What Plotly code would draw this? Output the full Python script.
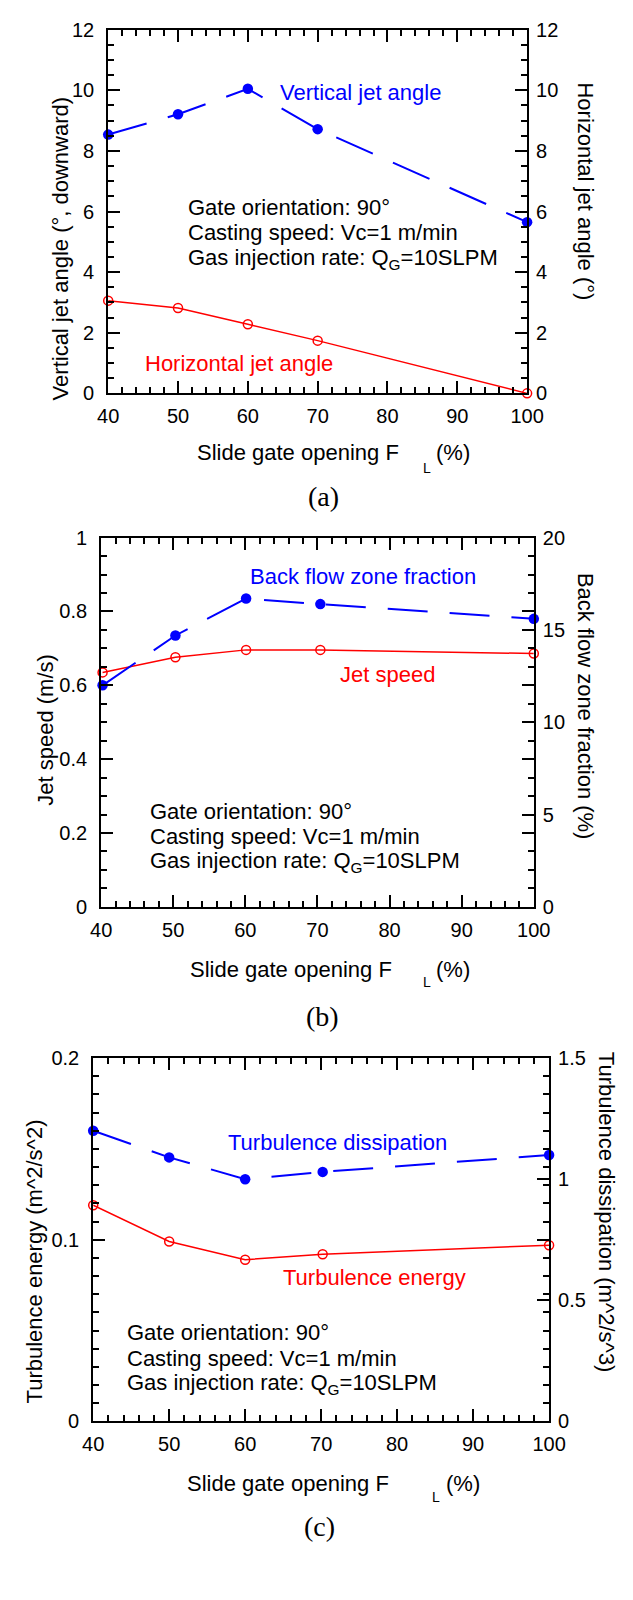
import plotly.graph_objects as go

# ---------------- data ----------------
x_ticks = [40, 50, 60, 70, 80, 90, 100]

# Panel (a)
gate_a = [40, 50, 60, 70, 100]
vertical_angle = [8.54, 9.21, 10.05, 8.72, 5.65]
horizontal_angle = [3.06, 2.82, 2.28, 1.74, 0.0]

# Panel (b)
gate_b = [40.2, 50.3, 60.1, 70.4, 100]
jet_speed = [0.635, 0.676, 0.696, 0.696, 0.686]
backflow_fraction = [12.0, 14.7, 16.7, 16.4, 15.6]

# Panel (c)
gate_c = [40, 50, 60, 70.2, 100]
turb_energy = [0.119, 0.099, 0.089, 0.092, 0.097]
turb_dissipation = [1.20, 1.09, 1.00, 1.03, 1.10]

conditions = ["Gate orientation: 90°",
              "Casting speed: Vc=1 m/min",
              "Gas injection rate: Q<sub>G</sub>=10SLPM"]

# ---------------- style ----------------
W, H = 633, 1600
FONT = "Liberation Sans, Arial, Helvetica, sans-serif"
SERIF = "Liberation Serif, Times New Roman, serif"
BLUE = "rgb(0,0,255)"
RED = "rgb(255,0,0)"


def px(x):
    return x / W


def py(y):
    return 1 - y / H


fig = go.Figure()


def add_pair(xa, ya_left, ya_right, xs, blue_vals, red_vals, red_on_left):
    fig.add_trace(go.Scatter(
        x=xs, y=red_vals, xaxis=xa, yaxis=(ya_left if red_on_left else ya_right),
        mode="lines+markers",
        line=dict(color=RED, width=1.5),
        marker=dict(symbol="circle-open", size=9, color=RED, line=dict(width=1.5, color=RED)),
        cliponaxis=False, showlegend=False))
    fig.add_trace(go.Scatter(
        x=xs, y=blue_vals, xaxis=xa, yaxis=(ya_right if red_on_left else ya_left),
        mode="lines+markers",
        line=dict(color=BLUE, width=2, dash="40px,22px"),
        marker=dict(symbol="circle", size=10.5, color=BLUE),
        cliponaxis=False, showlegend=False))


add_pair("x", "y", "y2", gate_a, vertical_angle, horizontal_angle, red_on_left=False)
add_pair("x2", "y3", "y4", gate_b, backflow_fraction, jet_speed, red_on_left=True)
add_pair("x3", "y5", "y6", gate_c, turb_dissipation, turb_energy, red_on_left=True)

TICKW = 1.5


def xcfg(domain, anchor):
    return dict(domain=domain, anchor=anchor, range=[40, 100],
                tickmode="array", tickvals=x_ticks, ticktext=[str(v) for v in x_ticks],
                ticks="inside", ticklen=12, tickwidth=TICKW, tickcolor="black",
                showline=True, linewidth=2, linecolor="black", mirror="ticks",
                showgrid=False, zeroline=False, ticklabelstandoff=4,
                tickfont=dict(family=FONT, size=20, color="black"),
                minor=dict(tickmode="linear", tick0=40, dtick=2, ticks="inside", ticklen=6,
                           tickwidth=TICKW, tickcolor="black", showgrid=False))


def ycfg_left(domain, anchor, rng, tickvals, ticktext, minor_dtick):
    return dict(domain=domain, anchor=anchor, range=rng,
                tickmode="array", tickvals=tickvals, ticktext=ticktext,
                ticks="inside", ticklen=12, tickwidth=TICKW, tickcolor="black",
                showline=True, linewidth=2, linecolor="black", mirror="ticks",
                showgrid=False, zeroline=False, ticklabelstandoff=8,
                tickfont=dict(family=FONT, size=20, color="black"),
                minor=dict(tickmode="linear", tick0=0, dtick=minor_dtick, ticks="inside", ticklen=6,
                           tickwidth=TICKW, tickcolor="black", showgrid=False))


def ycfg_right(overlay, anchor, rng, tickvals, ticktext, show_ticks):
    return dict(overlaying=overlay, anchor=anchor, side="right", range=rng,
                tickmode="array", tickvals=tickvals, ticktext=ticktext,
                ticks=("inside" if show_ticks else ""), ticklen=12, tickwidth=TICKW, tickcolor="black",
                showline=False, showgrid=False, zeroline=False, ticklabelstandoff=8,
                tickfont=dict(family=FONT, size=20, color="black"))


dom_a_x = [px(101.7), px(540.0)]
dom_a_y = [py(387.7), py(19.0)]
dom_b_x = [px(94.3), px(547.0)]
dom_b_y = [py(908.3), py(534.0)]
dom_c_x = [px(86.0), px(563.0)]
dom_c_y = [py(1430.0), py(1061.7)]

a_vals = [0, 2, 4, 6, 8, 10, 12]
b_left_vals = [0, 0.2, 0.4, 0.6, 0.8, 1.0]
b_left_text = ["0", "0.2", "0.4", "0.6", "0.8", "1"]
b_right_vals = [0, 5, 10, 15, 20]
c_left_vals = [0, 0.1, 0.2]
c_left_text = ["0", "0.1", "0.2"]
c_left_long_unlabeled = [0.05, 0.15]
c_right_vals = [0, 0.5, 1, 1.5]
c_right_text = ["0", "0.5", "1", "1.5"]

layout = dict(
    width=W, height=H, margin=dict(l=0, r=0, t=0, b=0),
    paper_bgcolor="white", plot_bgcolor="white", showlegend=False,
    font=dict(family=FONT, size=20, color="black"),
    xaxis=xcfg(dom_a_x, "y"),
    yaxis=ycfg_left(dom_a_y, "x", [0, 12], a_vals, [str(v) for v in a_vals], 0.5),
    yaxis2=ycfg_right("y", "x", [0, 12], a_vals, [str(v) for v in a_vals], False),
    xaxis2=xcfg(dom_b_x, "y3"),
    yaxis3=ycfg_left(dom_b_y, "x2", [0, 1], b_left_vals, b_left_text, 0.05),
    yaxis4=ycfg_right("y3", "x2", [0, 20], b_right_vals, [str(v) for v in b_right_vals], True),
    xaxis3=xcfg(dom_c_x, "y5"),
    yaxis5=ycfg_left(dom_c_y, "x3", [0, 0.2], c_left_vals, c_left_text, 0.01),
    yaxis6=ycfg_right("y5", "x3", [0, 1.5], c_right_vals, c_right_text, True),
    # extra long (unlabelled) ticks on the left axis of panel (c)
    yaxis7=dict(overlaying="y5", anchor="x3", side="left", range=[0, 0.2],
                tickmode="array", tickvals=c_left_long_unlabeled, showticklabels=False,
                ticks="inside", ticklen=12, tickwidth=TICKW, tickcolor="black",
                showline=False, showgrid=False, zeroline=False),
)
fig.update_layout(**layout)

ann = []


def text(x, y, s, color="black", size=22, xanchor="left", angle=0, family=FONT):
    ann.append(dict(xref="paper", yref="paper", x=px(x), y=py(y), text=s, showarrow=False,
                    xanchor=xanchor, yanchor="middle", textangle=angle,
                    font=dict(family=family, size=size, color=color)))


def panel_texts(blue_lbl, red_lbl, block, xtitle, caption, ltitle, rtitle):
    text(blue_lbl[1], blue_lbl[2], blue_lbl[0], color=BLUE)
    text(red_lbl[1], red_lbl[2], red_lbl[0], color=RED)
    bx, bys = block
    for line, by in zip(conditions, bys):
        text(bx, by, line)
    tx, ty, lx, ly, pcx = xtitle
    text(tx, ty, "Slide gate opening F")
    text(lx, ly, "L", size=14)
    text(pcx, ty, "(%)")
    text(caption[1], caption[2], caption[0], size=28, xanchor="center", family=SERIF)
    text(ltitle[1], ltitle[2], ltitle[0], xanchor="center", angle=-90)
    text(rtitle[1], rtitle[2], rtitle[0], xanchor="center", angle=90)


panel_texts(("Vertical jet angle", 279, 83), ("Horizontal jet angle", 138, 357),
            (182.6, [199, 225, 251]), (192, 448, 429, 463, 443), ("(a)", 327, 492),
            ("Vertical jet angle (°, downward)", 52, 241), ("Horizontal jet angle (°)", 600.6, 183))
panel_texts(("Back flow zone fraction", 247.7, 573), ("Jet speed", 342, 672.7),
            (143.7, [811.7, 837.3, 862.7]), (185, 971.7, 429, 985, 443), ("(b)", 326, 1020),
            ("Jet speed (m/s)", 36.4, 729), ("Back flow zone fraction (%)", 601, 705))
panel_texts(("Turbulence dissipation", 224.5, 1147), ("Turbulence energy", 282, 1284),
            (119, [1340, 1366, 1391.7]), (182, 1492.7, 438, 1506.7, 452.7), ("(c)", 323, 1537),
            ("Turbulence energy (m^2/s^2)", 25, 1268), ("Turbulence dissipation (m^2/s^3)", 623, 1218))

fig.update_layout(annotations=ann)
fig.write_html("out.html")
